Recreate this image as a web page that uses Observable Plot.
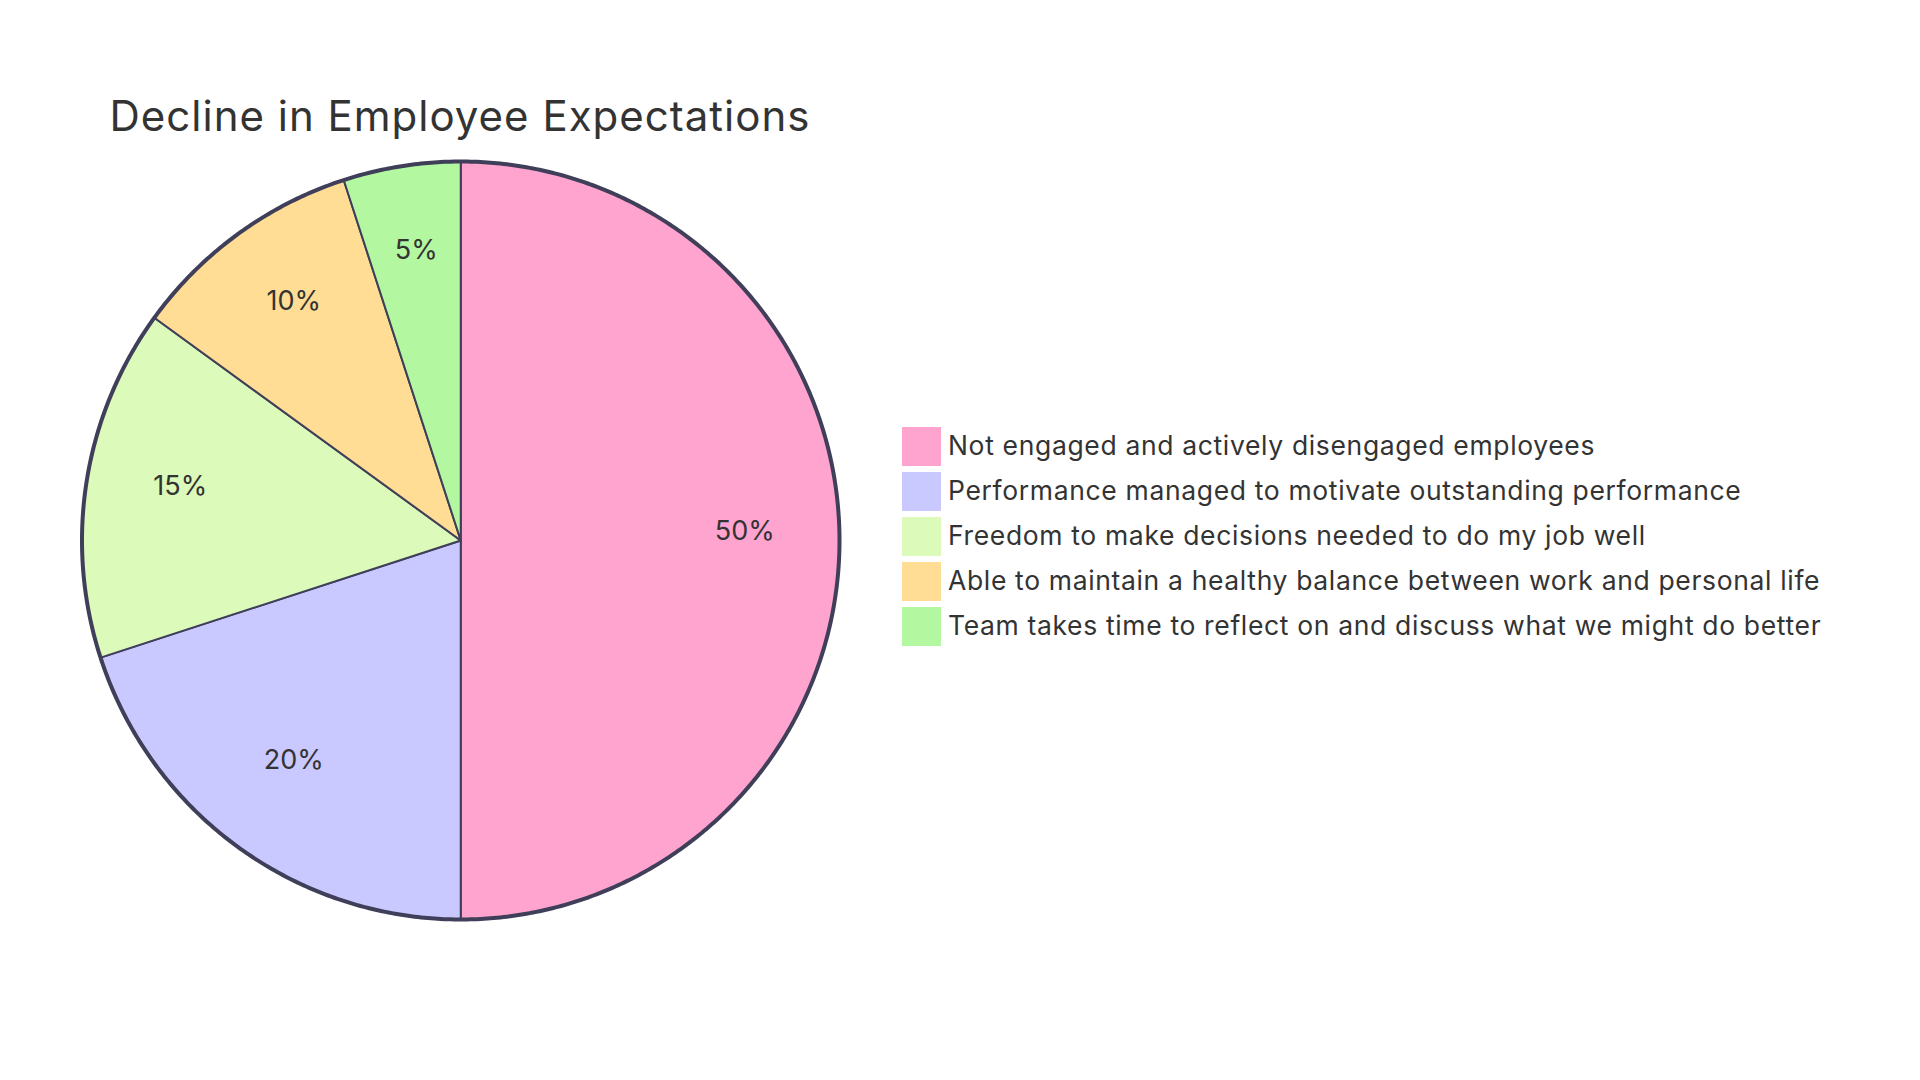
<!DOCTYPE html>
<html><head><meta charset="utf-8">
<script src="https://cdn.jsdelivr.net/npm/d3@7"></script>
<script src="https://cdn.jsdelivr.net/npm/@observablehq/plot@0.6"></script>
<style>
html,body{margin:0;padding:0;background:#fff;}
#wrap{position:relative;width:1920px;height:1080px;overflow:hidden;background:#fff;}
#wrap svg{position:absolute;left:0;top:0;}
svg.legend-plot text{letter-spacing:0.65px;}
svg.pie-plot g.title-mark text{letter-spacing:1px;}
</style></head><body><div id="wrap"></div>
<script>
const title = "Decline in Employee Expectations";
const categories = [
  "Not engaged and actively disengaged employees",
  "Performance managed to motivate outstanding performance",
  "Freedom to make decisions needed to do my job well",
  "Able to maintain a healthy balance between work and personal life",
  "Team takes time to reflect on and discuss what we might do better"
];
const values = [50, 20, 15, 10, 5];
const colors = ["#FFA3CF", "#C9C9FF", "#DCFABA", "#FFDD94", "#B3F7A1"];

const FONT = "Inter, 'Noto Sans', sans-serif";
const INK = "#333333";
const EDGE = "#3f3f5a";

const total = d3.sum(values);
let acc = 0;
const slices = categories.map((name, i) => {
  const a0 = acc / total * 2 * Math.PI;
  acc += values[i];
  const a1 = acc / total * 2 * Math.PI;
  return {name, value: values[i], a0, a1};
});
const polys = slices.map(s => {
  const pts = [{x: 0, y: 0}];
  const n = Math.max(2, Math.ceil((s.a1 - s.a0) / (Math.PI / 360)));
  for (let k = 0; k <= n; k++) {
    const a = s.a0 + (s.a1 - s.a0) * k / n;
    pts.push({x: Math.sin(a), y: Math.cos(a)});
  }
  pts.push({x: 0, y: 0});
  return pts;
});
const rim = d3.range(0, 721).map(k => {
  const a = k / 720 * 2 * Math.PI;
  return {x: Math.sin(a), y: Math.cos(a)};
});
const labels = slices.map(s => {
  const m = (s.a0 + s.a1) / 2;
  return {x: 0.75 * Math.sin(m), y: 0.75 * Math.cos(m), text: (s.value / total * 100).toFixed(0) + "%"};
});

const pie = Plot.plot({
  width: 1920, height: 1080, margin: 0,
  className: "pie-plot",
  style: {fontFamily: FONT, background: "transparent", overflow: "visible"},
  x: {domain: [-1, 1], range: [81.5, 839], axis: null},
  y: {domain: [-1, 1], range: [919, 161], axis: null},
  marks: [
    ...polys.map((p, i) => Plot.line(p, {x: "x", y: "y", fill: colors[i], stroke: EDGE, strokeWidth: 2, strokeLinejoin: "round", curve: "linear"})),
    Plot.line(rim, {x: "x", y: "y", stroke: EDGE, strokeWidth: 4, fill: "none"}),
    Plot.text(labels, {x: "x", y: "y", text: "text", dy: -1, fontSize: 27, fill: INK, textAnchor: "middle", lineAnchor: "bottom"}),
    Plot.text([title], {text: d => d, frameAnchor: "top-left", dx: 109, dy: 130, lineAnchor: "bottom", textAnchor: "start", fontSize: 42, fill: INK, className: "title-mark"})
  ]
});

const legend = Plot.plot({
  width: 1920, height: 1080, margin: 0,
  className: "legend-plot",
  style: {fontFamily: FONT, background: "transparent", overflow: "visible"},
  x: {type: "band", domain: ["sw"], range: [901.5, 940.5], padding: 0, axis: null},
  y: {type: "band", domain: categories, range: [423, 649.5], paddingInner: 0.13, paddingOuter: 0.065, axis: null},
  color: {domain: categories, range: colors},
  marks: [
    Plot.cell(categories, {x: () => "sw", y: d => d, fill: d => d, inset: 0}),
    Plot.text(categories, {x: () => "sw", y: d => d, text: d => d, dx: 26, dy: 7.5, textAnchor: "start", lineAnchor: "bottom", fontSize: 26.5, fill: INK})
  ]
});

const wrap = document.getElementById("wrap");
wrap.appendChild(pie);
wrap.appendChild(legend);
</script>
</body></html>
